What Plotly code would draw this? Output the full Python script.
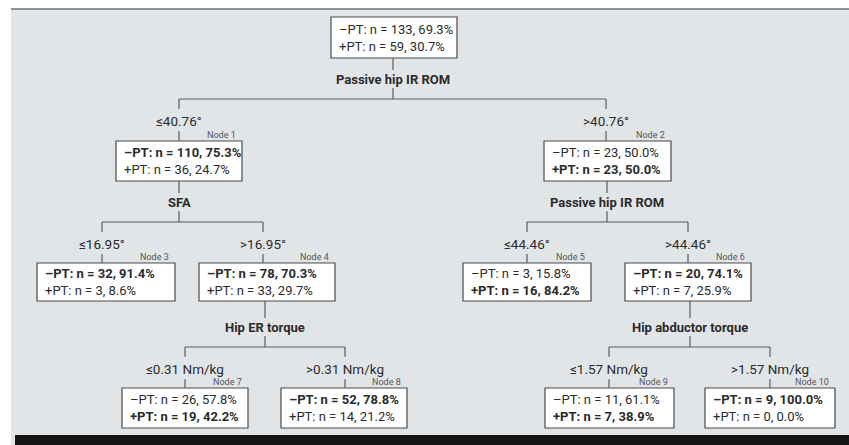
import plotly.graph_objects as go

# ---------------- data ----------------
node_names = ["", "Node 1", "Node 2", "Node 3", "Node 4", "Node 5",
              "Node 6", "Node 7", "Node 8", "Node 9", "Node 10"]
neg_n = [133, 110, 23, 32, 78, 3, 20, 26, 52, 11, 9]
neg_pct = [69.3, 75.3, 50.0, 91.4, 70.3, 15.8, 74.1, 57.8, 78.8, 61.1, 100.0]
pos_n = [59, 36, 23, 3, 33, 16, 7, 19, 14, 7, 0]
pos_pct = [30.7, 24.7, 50.0, 8.6, 29.7, 84.2, 25.9, 42.2, 21.2, 38.9, 0.0]
bold_line = [None, "neg", "pos", "neg", "neg", "pos", "neg", "pos", "neg", "pos", "neg"]

split_parent = [0, 1, 2, 4, 6]
split_var = ["Passive hip IR ROM", "SFA", "Passive hip IR ROM",
             "Hip ER torque", "Hip abductor torque"]
split_threshold = ["40.76°", "16.95°", "44.46°", "0.31 Nm/kg", "1.57 Nm/kg"]
split_children = [(1, 2), (3, 4), (5, 6), (7, 8), (9, 10)]

# ---------------- layout (pixel positions) ----------------
W, H = 849, 445
box = {
    0: (331, 457, 17, 58),
    1: (116, 242, 141, 181),
    2: (544, 671, 141, 181),
    3: (37, 175, 263, 301),
    4: (199, 335, 263, 301),
    5: (463, 591, 263, 301),
    6: (625, 751, 263, 301),
    7: (122, 248, 388, 428),
    8: (281, 407, 388, 428),
    9: (545, 674, 388, 428),
    10: (705, 835, 388, 428),
}
stem_x = {0: 393, 1: 179, 2: 607, 4: 265, 6: 690}
var_y = {0: 79, 1: 202, 2: 202, 4: 327, 6: 327}
bar_y = {0: 99, 1: 222, 2: 222, 4: 347, 6: 347}
branch_x = {1: 179, 2: 606, 3: 102, 4: 263, 5: 527, 6: 688,
            7: 185, 8: 345, 9: 609, 10: 770}

FONT = "Roboto, Liberation Sans, sans-serif"
TXT = "#2b2b2b"
LINE = "#5a5a5a"
BG = "#e2e5e8"

shapes = []
ann = []

def line(x0, y0, x1, y1, w=1.2, c=LINE):
    shapes.append(dict(type="line", xref="x", yref="y", x0=x0, y0=y0, x1=x1, y1=y1,
                       line=dict(color=c, width=w)))

def text(x, y, s, size=13, anchor="center", bold=False, color=TXT, align="center"):
    if bold:
        s = "<b>" + s + "</b>"
    ann.append(dict(x=x, y=y, xref="x", yref="y", text=s, showarrow=False,
                    xanchor=anchor, yanchor="middle", align=align,
                    font=dict(family=FONT, size=size, color=color)))

# background panel
shapes.append(dict(type="rect", xref="x", yref="y", x0=11, x1=W + 2, y0=9.5, y1=H + 2,
                   fillcolor=BG, line=dict(width=0), layer="below"))
line(11, 9, W + 2, 9, w=1.5, c="#6e6e6e")
shapes.append(dict(type="rect", xref="x", yref="y", x0=15, x1=W + 2, y0=435, y1=H + 2,
                   fillcolor="#141414", line=dict(width=0)))

# nodes
for i in range(len(neg_n)):
    x0, x1, y0, y1 = box[i]
    shapes.append(dict(type="rect", xref="x", yref="y", x0=x0, x1=x1, y0=y0, y1=y1,
                       fillcolor="white", line=dict(color="#4a4a4a", width=1.2)))
    l1 = "–PT: n = %d, %.1f%%" % (neg_n[i], neg_pct[i])
    l2 = "+PT: n = %d, %.1f%%" % (pos_n[i], pos_pct[i])
    if bold_line[i] == "neg":
        l1 = "<b>" + l1 + "</b>"
    elif bold_line[i] == "pos":
        l2 = "<b>" + l2 + "</b>"
    text(x0 + 6, (y0 + y1) / 2, l1 + "<br>" + l2, size=13, anchor="left", align="left")
    if node_names[i]:
        text(x1 - 4, y0 - 6, node_names[i], size=9, anchor="right", color="#555")

# splits
for k, p in enumerate(split_parent):
    sx = stem_x[p]
    py1 = box[p][3]
    vy = var_y[p]
    by = bar_y[p]
    line(sx, py1, sx, vy - 9)
    text(sx, vy, split_var[k], size=13, bold=True)
    line(sx, vy + 9, sx, by)
    lc, rc = split_children[k]
    line(branch_x[lc], by, branch_x[rc], by)
    for c, sym in ((lc, "≤"), (rc, ">")):
        cx = branch_x[c]
        ty = by + 22
        line(cx, by, cx, by + 10)
        text(cx, ty, sym + split_threshold[k], size=13.5)
        line(cx, ty + 10, cx, box[c][2])

fig = go.Figure()
fig.add_trace(go.Scatter(x=[0, W], y=[0, H], mode="markers",
                         marker=dict(opacity=0), hoverinfo="skip", showlegend=False))
fig.update_layout(
    width=W, height=H, margin=dict(l=0, r=0, t=0, b=0),
    paper_bgcolor="white", plot_bgcolor="white",
    xaxis=dict(range=[0, W], visible=False, fixedrange=True),
    yaxis=dict(range=[H, 0], visible=False, fixedrange=True),
    shapes=shapes, annotations=ann, showlegend=False,
)
fig.write_html("out.html", config={"displayModeBar": False},
               post_script="document.body.style.margin='0';document.body.style.overflow='hidden';")
